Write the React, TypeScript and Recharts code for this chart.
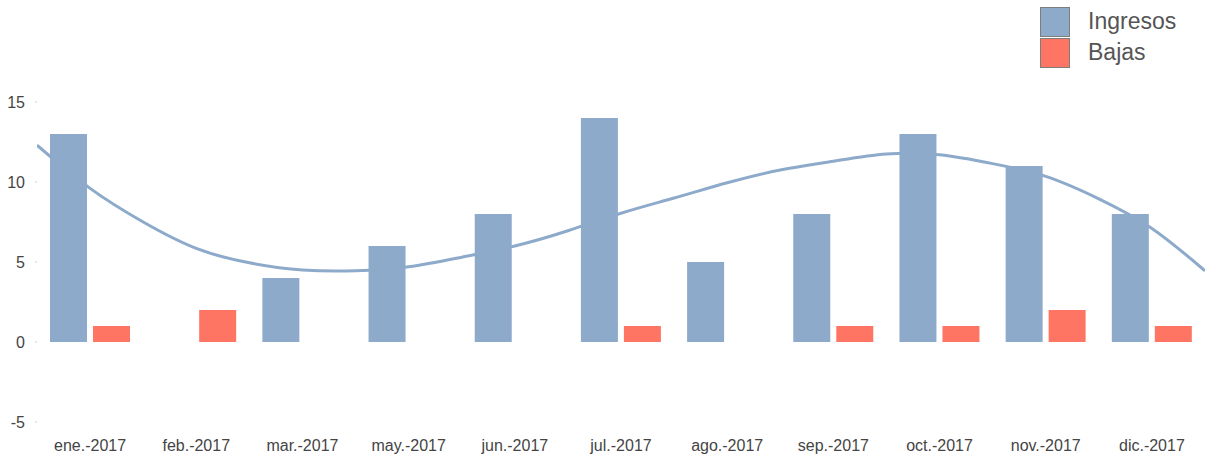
import React from "react";
import { ComposedChart, Bar, Line, XAxis, YAxis } from "recharts";

const months = [
  "ene.-2017",
  "feb.-2017",
  "mar.-2017",
  "may.-2017",
  "jun.-2017",
  "jul.-2017",
  "ago.-2017",
  "sep.-2017",
  "oct.-2017",
  "nov.-2017",
  "dic.-2017"
];
const ingresos = [13, 0, 4, 6, 8, 14, 5, 8, 13, 11, 8];
const bajas = [1, 2, 0, 0, 0, 1, 0, 1, 1, 2, 1];

// trend line, at half-category steps
const trendPos = [-0.5, 0, 0.5, 1, 1.5, 2, 2.5, 3, 3.5, 4, 4.5, 5, 5.5, 6, 6.5, 7, 7.5, 8, 8.5, 9, 9.5, 10, 10.5];
const trendValues = [12.3, 9.6, 7.5, 5.85, 4.95, 4.5, 4.45, 4.7, 5.3, 6.0, 6.95, 8.05, 9.0, 9.95, 10.75, 11.3, 11.75, 11.7, 11.15, 10.35, 8.95, 7.1, 4.45];

const yTicks = [-5, 0, 5, 10, 15];

const series = [
  { key: "ingresos", name: "Ingresos", color: "#8DAACB" },
  { key: "bajas", name: "Bajas", color: "#FF7563" }
];

const data = months.map((m, i) => ({ name: m, ingresos: ingresos[i], bajas: bajas[i] }));
const trendData = trendPos.map((p, i) => ({ pos: p, value: trendValues[i] }));

const font = "'Liberation Sans', Arial, sans-serif";

const App: React.FC = () => {
  return (
    <div style={{ position: "absolute", left: 0, top: 0, width: 1205, height: 459, background: "#fff", fontFamily: font }}>
      {/* Legend */}
      <div style={{ position: "absolute", left: 1040, top: 6, zIndex: 2 }}>
        {series.map((s) => (
          <div key={s.key} style={{ display: "flex", alignItems: "center", height: 31 }}>
            <div
              style={{
                width: 30,
                height: 30,
                background: s.color,
                border: "1px solid #7d7d7d",
                boxSizing: "border-box"
              }}
            />
            <span style={{ marginLeft: 18, fontSize: 23, color: "#555", lineHeight: "31px" }}>{s.name}</span>
          </div>
        ))}
      </div>

      <ComposedChart
        width={1205}
        height={459}
        data={data}
        margin={{ top: 70, right: 0, bottom: 0, left: 0 }}
        barSize={37}
        barGap={6}
      >
        <XAxis
          xAxisId="cat"
          dataKey="name"
          axisLine={false}
          tickLine={false}
          tickSize={0}
          tickMargin={10}
          height={29}
          interval={0}
          tick={{ fill: "#444", fontSize: 16, fontFamily: font }}
        />
        <XAxis
          xAxisId="trend"
          type="number"
          dataKey="pos"
          domain={[-0.5, 10.5]}
          allowDataOverflow
          hide
        />
        <YAxis
          domain={[-5.5, 17]}
          ticks={yTicks}
          width={37}
          axisLine={false}
          tickSize={2}
          tickMargin={10}
          tickLine={{ stroke: "#cfcfcf" }}
          tick={{ fill: "#444", fontSize: 16, fontFamily: font }}
        />

        {/* Trend line sits behind the bars */}
        <Line
          xAxisId="trend"
          data={trendData}
          dataKey="value"
          type="natural"
          stroke="#8DAACB"
          strokeWidth={3}
          dot={false}
          activeDot={false}
          legendType="none"
          zIndex={200}
          isAnimationActive={false}
        />

        {series.map((s) => (
          <Bar
            key={s.key}
            xAxisId="cat"
            dataKey={s.key}
            name={s.name}
            fill={s.color}
            isAnimationActive={false}
          />
        ))}
      </ComposedChart>
    </div>
  );
};

export default App;
